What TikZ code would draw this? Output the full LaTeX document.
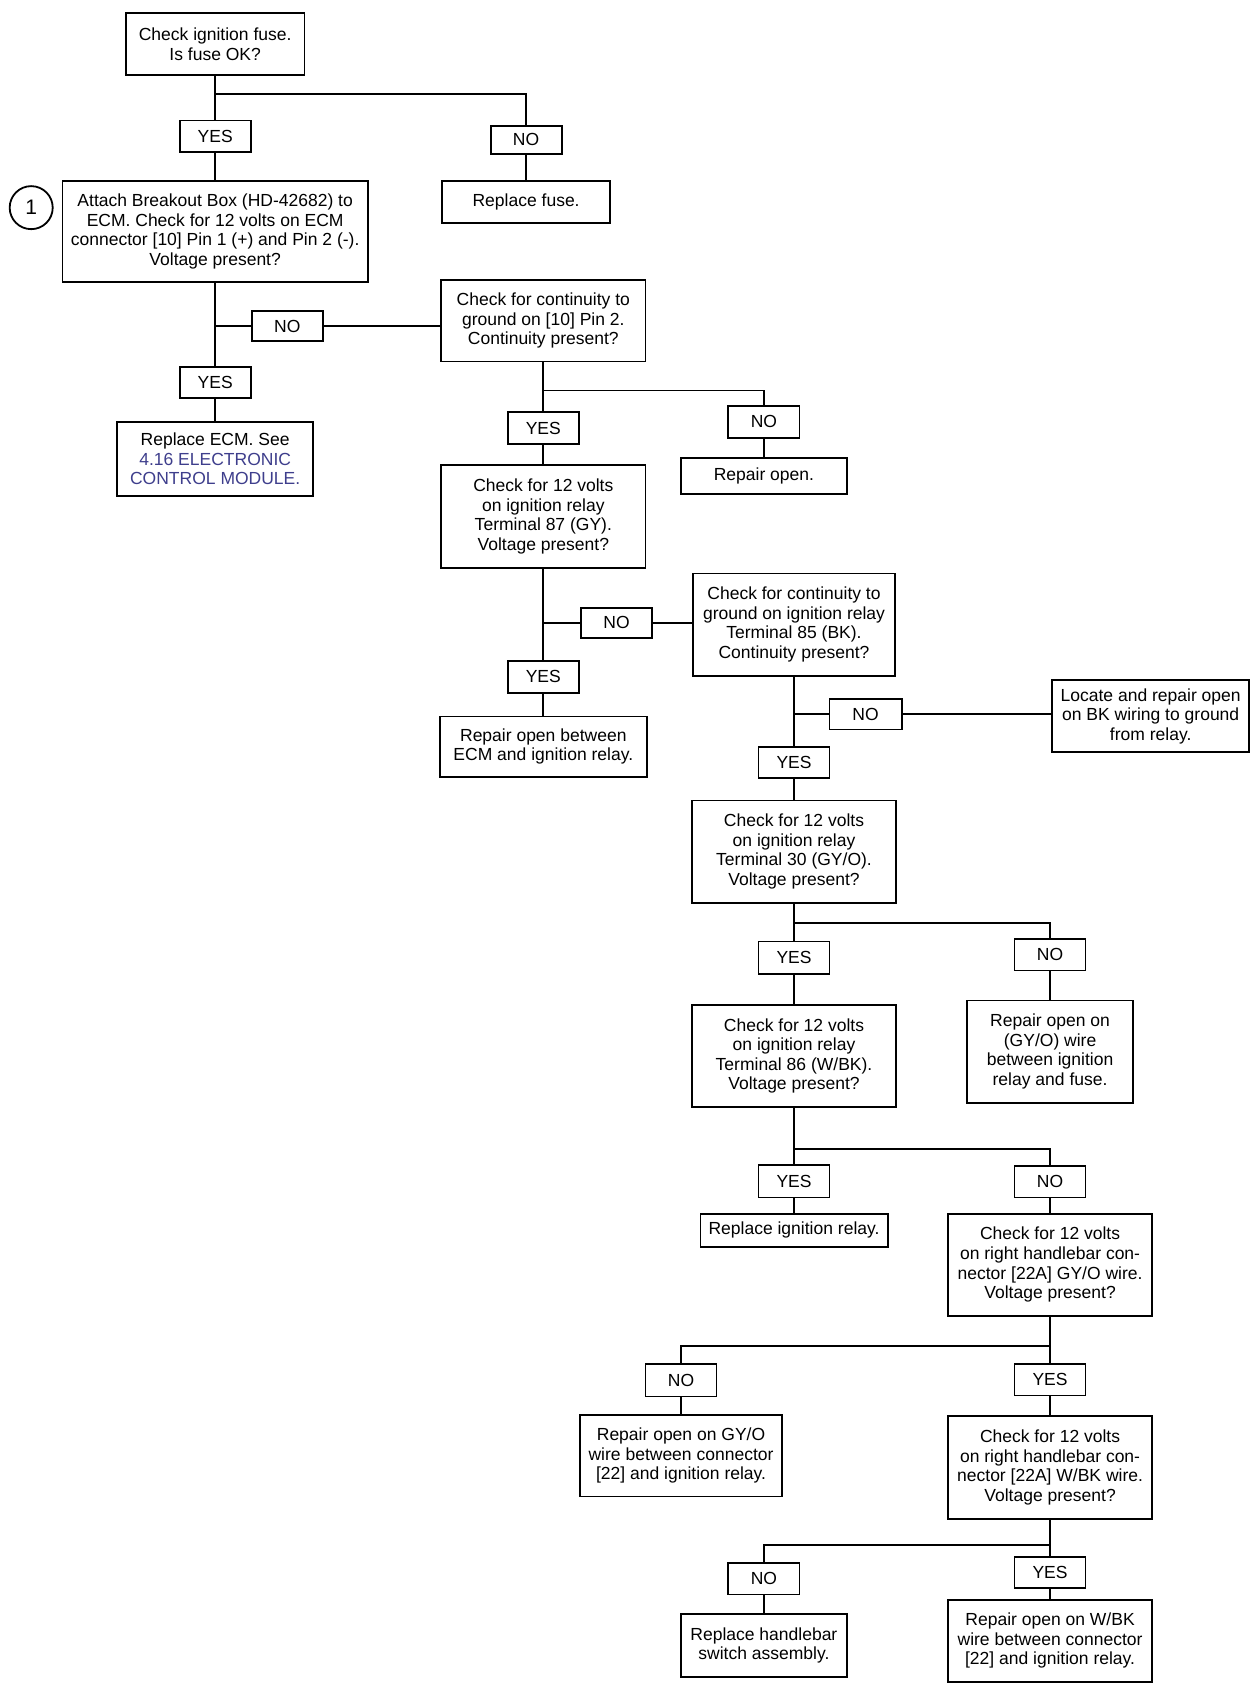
\documentclass[tikz,border=0pt]{standalone}
\usepackage{fontspec}
\setmainfont{Liberation Sans}
\definecolor{linkblue}{RGB}{62,62,140}
\begin{document}
\begin{tikzpicture}[x=1.0755pt,y=-1.0755pt,
  box/.style={draw, line width=1.8pt, align=center, inner sep=0pt, font=\fontsize{17.5}{19.5}\selectfont},
  rect/.style n args={4}{minimum width={(#3-#1)*1.0755pt}, minimum height={(#4-#2)*1.0755pt}, at={({(#1+#3)/2},{(#2+#4)/2})}},
  conn/.style={line width=1.8pt}]
\useasboundingbox (0,0) rectangle (1165,1568);

% column A
\node[box, rect={117}{12}{283}{70}] (n1) {Check ignition fuse.\\Is fuse OK?};
\node[box, rect={167}{112}{233}{141}] (y1) {YES};
\node[box, rect={456}{117}{522}{143}] (no1) {NO};
\node[box, rect={411}{168}{567}{207}] (fuse) {Replace fuse.};
\node[draw, line width=1.8pt, circle, minimum size={40*1.0755pt}, inner sep=0pt, font=\fontsize{21}{23}\selectfont] (c1) at (29,193) {1};
\node[box, rect={58}{168}{342}{262}] (att) {Attach Breakout Box (HD-42682) to\\ECM. Check for 12 volts on ECM\\connector [10] Pin 1 (+) and Pin 2 (-).\\Voltage present?};
\node[box, rect={234}{289}{300}{317}] (noA) {NO};
\node[box, rect={167}{341}{233}{370}] (y2) {YES};
\node[box, rect={109}{392}{291}{461}] (ecm) {Replace ECM. See\\\textcolor{linkblue}{4.16 ELECTRONIC}\\\textcolor{linkblue}{CONTROL MODULE.}};

% column B
\node[box, rect={410}{260}{600}{336}] (c10) {Check for continuity to\\ground on [10] Pin 2.\\Continuity present?};
\node[box, rect={472}{383}{538}{413}] (y3) {YES};
\node[box, rect={677}{377}{743}{407}] (no3) {NO};
\node[box, rect={633}{426}{787}{459}] (ropen) {Repair open.};
\node[box, rect={410}{432}{600}{528}] (c87) {Check for 12 volts\\on ignition relay\\Terminal 87 (GY).\\Voltage present?};
\node[box, rect={540}{565}{606}{593}] (no4) {NO};
\node[box, rect={472}{614}{538}{644}] (y4) {YES};
\node[box, rect={409}{666}{601}{722}] (ecmr) {Repair open between\\ECM and ignition relay.};

% column C
\node[box, rect={644}{533}{832}{628}] (c85) {Check for continuity to\\ground on ignition relay\\Terminal 85 (BK).\\Continuity present?};
\node[box, rect={771}{650}{838}{678}] (no5) {NO};
\node[box, rect={978}{632}{1161}{699}] (loc) {Locate and repair open\\on BK wiring to ground\\from relay.};
\node[box, rect={705}{694}{771}{723}] (y5) {YES};
\node[box, rect={643}{744}{833}{839}] (c30) {Check for 12 volts\\on ignition relay\\Terminal 30 (GY/O).\\Voltage present?};
\node[box, rect={705}{875}{771}{905}] (y6) {YES};
\node[box, rect={943}{873}{1009}{902}] (no6) {NO};
\node[box, rect={899}{930}{1053}{1025}] (gyo) {Repair open on\\(GY/O) wire\\between ignition\\relay and fuse.};
\node[box, rect={643}{934}{833}{1029}] (c86) {Check for 12 volts\\on ignition relay\\Terminal 86 (W/BK).\\Voltage present?};
\node[box, rect={705}{1083}{771}{1113}] (y7) {YES};
\node[box, rect={943}{1084}{1009}{1113}] (no7) {NO};
\node[box, rect={651}{1128}{825}{1159}] (relay) {Replace ignition relay.};
\node[box, rect={881}{1128}{1071}{1223}] (c22) {Check for 12 volts\\on right handlebar con-\\nector [22A] GY/O wire.\\Voltage present?};
\node[box, rect={600}{1268}{666}{1298}] (no8) {NO};
\node[box, rect={943}{1268}{1009}{1297}] (y8) {YES};
\node[box, rect={539}{1315}{727}{1391}] (gyo22) {Repair open on GY/O\\wire between connector\\{[22]} and ignition relay.};
\node[box, rect={881}{1316}{1071}{1412}] (cwbk) {Check for 12 volts\\on right handlebar con-\\nector [22A] W/BK wire.\\Voltage present?};
\node[box, rect={677}{1453}{743}{1482}] (no9) {NO};
\node[box, rect={943}{1447}{1009}{1476}] (y9) {YES};
\node[box, rect={633}{1500}{787}{1559}] (hb) {Replace handlebar\\switch assembly.};
\node[box, rect={881}{1487}{1071}{1563}] (wbk) {Repair open on W/BK\\wire between connector\\{[22]} and ignition relay.};

% junctions
\coordinate (j1) at (200,87);
\coordinate (j3) at (505,363);
\coordinate (j6) at (738,858);
\coordinate (j7) at (738,1068);
\coordinate (j8) at (976,1251);
\coordinate (j9) at (976,1436);

% connectors
\draw[conn] (n1) -- (y1);
\draw[conn] (j1) -| (no1);
\draw[conn] (no1) -- (fuse);
\draw[conn] (y1) -- (att);
\draw[conn] (att) -- (y2);
\draw[conn] (y2) -- (ecm);
\draw[conn] (att.south |- noA.west) -- (noA.west);
\draw[conn] (noA) -- (noA -| c10.west);

\draw[conn] (c10) -- (y3);
\draw[conn] (j3) -| (no3);
\draw[conn] (no3) -- (ropen);
\draw[conn] (y3) -- (c87);
\draw[conn] (c87) -- (y4);
\draw[conn] (y4) -- (ecmr);
\draw[conn] (c87.south |- no4.west) -- (no4.west);
\draw[conn] (no4) -- (no4 -| c85.west);

\draw[conn] (c85) -- (y5);
\draw[conn] (c85.south |- no5.west) -- (no5.west);
\draw[conn] (no5) -- (no5 -| loc.west);
\draw[conn] (y5) -- (c30);
\draw[conn] (c30) -- (y6);
\draw[conn] (j6) -| (no6);
\draw[conn] (no6) -- (gyo);
\draw[conn] (y6) -- (c86);
\draw[conn] (c86) -- (y7);
\draw[conn] (j7) -| (no7);
\draw[conn] (y7) -- (relay);
\draw[conn] (no7) -- (c22);
\draw[conn] (c22) -- (y8);
\draw[conn] (j8) -| (no8);
\draw[conn] (no8) -- (gyo22);
\draw[conn] (y8) -- (cwbk);
\draw[conn] (cwbk) -- (y9);
\draw[conn] (j9) -| (no9);
\draw[conn] (no9) -- (hb);
\draw[conn] (y9) -- (wbk);
\end{tikzpicture}
\end{document}
